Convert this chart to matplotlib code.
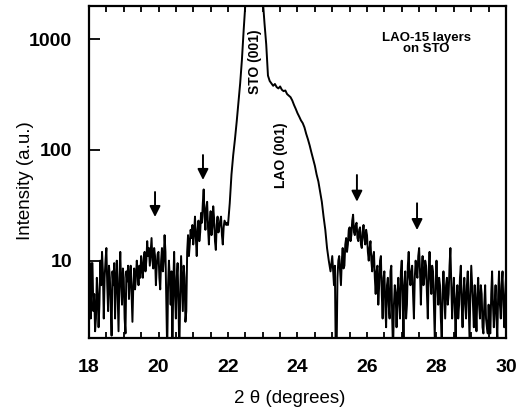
import numpy as np
import matplotlib
matplotlib.use("Agg")
import matplotlib.pyplot as plt
from matplotlib.ticker import FixedLocator, NullFormatter, LogLocator

# Left background + fringes: 18.000 .. 21.975 deg, step 0.025
left_start, left_step = 18.0, 0.025
left_intensity = [
    9.5, 9.5, 3.0, 9.5, 9.5, 3.5, 5.0, 2.3, 3.0, 7.0,
    5.0, 2.5, 4.0, 10.0, 6.0, 12.0, 8.0, 3.0, 7.0, 10.0,
    13.0, 6.0, 3.5, 9.0, 7.0, 4.0, 2.1, 8.0, 6.0, 9.5,
    3.0, 6.5, 10.0, 5.0, 2.3, 7.0, 12.0, 6.0, 4.0, 8.5,
    7.0, 3.0, 2.2, 8.0, 6.5, 9.0, 4.5, 7.0, 9.0, 5.0,
    2.8, 6.0, 8.5, 5.5, 7.0, 10.0, 8.0, 6.0, 9.0, 7.0,
    11.0, 8.5, 7.0, 10.5, 12.0, 8.0, 10.0, 15.0, 11.0, 13.0,
    9.0, 12.0, 16.0, 10.0, 8.5, 13.0, 11.0, 6.0, 9.0, 11.5,
    12.0, 7.0, 5.5, 10.0, 13.0, 8.0, 10.0, 17.0, 12.0, 4.0,
    1.5, 6.0, 10.0, 7.0, 4.0, 8.0, 1.5, 6.0, 12.0, 5.0,
    3.0, 7.0, 9.5, 4.0, 1.5, 5.0, 11.0, 6.0, 3.5, 9.0,
    7.0, 2.8, 3.5, 12.0, 17.0, 11.0, 14.0, 19.0, 16.0, 21.0,
    14.0, 18.0, 25.0, 16.0, 11.0, 19.0, 23.0, 15.0, 18.0, 27.0,
    22.0, 33.0, 44.0, 25.0, 19.0, 30.0, 34.0, 20.0, 14.0, 22.0,
    28.0, 17.0, 20.0, 31.0, 24.0, 15.0, 12.5, 21.0, 25.0, 18.0,
    20.0, 23.0, 25.0, 17.0, 14.0, 20.0, 23.0, 22.0, 21.0, 22.0,
]
# Substrate + film peaks: 22.00 .. 24.95 deg, step 0.05
peak_start, peak_step = 22.0, 0.05
peak_intensity = [
    21.0, 33.0, 60.0, 90.0, 125.0, 180.0, 270.0, 400.0, 650.0, 1200.0,
    2100.0, 6000.0, 20000.0, 60000.0, 90000.0, 100000.0, 80000.0, 40000.0, 12000.0, 4500.0,
    2300.0, 1400.0, 900.0, 470.0, 420.0, 400.0, 380.0, 395.0, 370.0, 360.0,
    375.0, 350.0, 340.0, 345.0, 320.0, 310.0, 300.0, 280.0, 255.0, 235.0,
    215.0, 200.0, 185.0, 175.0, 160.0, 140.0, 125.0, 110.0, 95.0, 83.0,
    72.0, 60.0, 52.0, 42.0, 34.0, 25.0, 19.0, 13.0, 10.0, 8.0,
]
# Right fringes + background: 25.000 .. 30.000 deg, step 0.025
right_start, right_step = 25.0, 0.025
right_intensity = [
    11.0, 8.0, 6.0, 9.0, 1.5, 1.5, 7.0, 10.0, 11.0, 8.0,
    6.0, 10.0, 13.0, 8.5, 9.0, 14.0, 16.0, 12.0, 14.0, 19.0,
    20.0, 15.0, 17.0, 23.0, 26.0, 18.0, 17.0, 21.0, 22.0, 16.0,
    15.0, 19.0, 20.0, 14.0, 13.0, 18.0, 21.0, 16.0, 14.0, 19.0,
    17.0, 12.0, 10.0, 13.0, 15.0, 10.0, 8.0, 11.0, 12.0, 7.0,
    5.0, 8.0, 9.0, 4.0, 6.0, 10.0, 11.0, 5.0, 3.0, 7.0,
    8.0, 4.0, 2.5, 6.0, 7.0, 4.0, 3.0, 8.0, 9.0, 3.0,
    1.5, 4.0, 6.0, 5.0, 2.5, 5.0, 7.0, 4.0, 3.0, 8.0,
    10.0, 5.0, 2.0, 6.0, 8.0, 3.0, 4.0, 9.0, 12.0, 7.0,
    6.0, 8.0, 9.0, 5.0, 3.0, 7.0, 10.0, 8.0, 7.0, 11.0,
    13.0, 8.0, 4.0, 8.0, 11.0, 6.0, 7.0, 10.0, 9.0, 5.0,
    3.0, 8.0, 12.0, 7.0, 5.0, 9.0, 8.0, 4.0, 2.0, 6.0,
    10.0, 6.0, 4.0, 7.0, 6.0, 3.0, 2.0, 5.0, 8.0, 5.0,
    3.0, 6.0, 7.0, 4.0, 5.0, 9.0, 13.0, 6.0, 3.0, 5.0,
    7.0, 4.0, 2.0, 4.5, 6.0, 3.0, 4.0, 7.0, 9.0, 4.0,
    2.5, 5.0, 7.0, 4.0, 3.0, 6.0, 8.0, 4.0, 2.0, 5.0,
    9.0, 6.0, 4.0, 2.5, 6.0, 4.0, 2.3, 5.0, 7.0, 4.0,
    3.0, 6.0, 5.0, 2.5, 2.2, 4.0, 6.0, 3.0, 2.5, 2.2,
    4.0, 2.3, 2.2, 5.0, 8.0, 4.0, 2.5, 4.0, 6.0, 3.0,
    2.0, 5.0, 8.0, 4.0, 3.0, 6.0, 8.0, 4.0, 2.5, 5.0,
    7.0,
]

# marker arrows (fringe positions)
arrow_x = [19.9, 21.28, 25.71, 27.44]
arrow_tip = [24.8, 53.6, 34.1, 18.9]
arrow_tail = [41.7, 90.0, 59.4, 33.0]

x_ticks = [18, 20, 22, 24, 26, 28, 30]
y_ticks = [10, 100, 1000]

two_theta = np.concatenate([
    left_start + left_step * np.arange(len(left_intensity)),
    peak_start + peak_step * np.arange(len(peak_intensity)),
    right_start + right_step * np.arange(len(right_intensity)),
])
intensity = np.concatenate([left_intensity, peak_intensity, right_intensity])

plt.rcParams['font.family'] = ['Liberation Sans', 'DejaVu Sans']

fig = plt.figure(figsize=(5.26, 4.12), dpi=100)
ax = fig.add_axes([89/526, 74/412, 417/526, 332/412])

ax.plot(two_theta, intensity, color='black', lw=1.4)
ax.set_yscale('log')
ax.set_xlim(18, 30)
ax.set_ylim(2, 2000)

for xa, yt, yb in zip(arrow_x, arrow_tip, arrow_tail):
    ax.annotate('', xy=(xa, yt), xytext=(xa, yb),
                arrowprops=dict(arrowstyle='-|>', color='black', lw=1.4,
                                mutation_scale=16, shrinkA=0, shrinkB=0))

ax.text(22.78, 624, 'STO (001)', rotation=90, ha='center', va='center',
        fontsize=10, fontweight='bold')
ax.text(23.53, 90, 'LAO (001)', rotation=90, ha='center', va='center',
        fontsize=10, fontweight='bold')
ax.text(27.7, 920, 'LAO-15 layers\non STO', ha='center', va='center',
        fontsize=9.5, fontweight='bold', linespacing=0.95)

ax.xaxis.set_major_locator(FixedLocator(x_ticks))
ax.xaxis.set_minor_locator(FixedLocator(np.arange(18, 30.01, 0.5)))
ax.yaxis.set_major_locator(FixedLocator(y_ticks))
ax.yaxis.set_minor_locator(LogLocator(base=10, subs=np.arange(2, 10)))
ax.yaxis.set_minor_formatter(NullFormatter())
ax.set_yticklabels([str(v) for v in y_ticks])

ax.tick_params(axis='x', which='both', direction='in', top=True, length=4, width=1.3,
               labelsize=14, pad=15)
ax.tick_params(axis='y', which='major', direction='in', length=8, width=1.3,
               labelsize=14, pad=12)
ax.tick_params(axis='y', which='minor', direction='in', length=0)
for lab in ax.get_xticklabels() + ax.get_yticklabels():
    lab.set_fontweight('bold')

for s in ax.spines.values():
    s.set_linewidth(1.6)

ax.set_xlabel('2 θ (degrees)', fontsize=13.5, va='center')
ax.set_ylabel('Intensity (a.u.)', fontsize=13.5, va='center')
ax.xaxis.set_label_coords(0.482, -0.181)
ax.yaxis.set_label_coords(-0.153, 0.473)

fig.savefig('out.png', dpi=100)
